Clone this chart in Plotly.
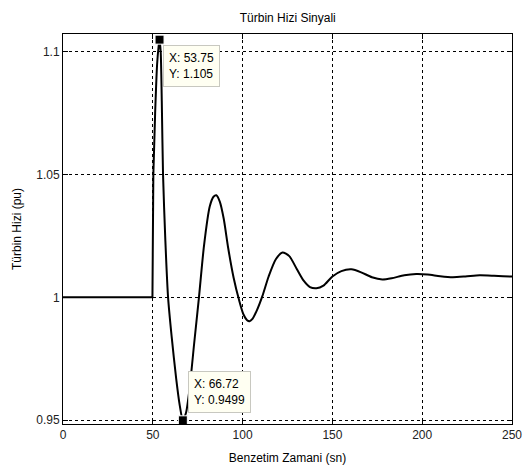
import plotly.graph_objects as go

# Simulation time (s) and turbine speed (pu)
t_sn = [0, 13, 14, 49.8, 50.3, 51.3, 52.4, 53.2, 53.75, 54.4, 55.0, 55.7, 57.0, 58.5,
        60.5, 63.0, 65.0, 66.72, 68.5, 70.5, 73.0, 75.7, 78.5, 81.7, 83.8, 85.4, 87.3,
        89.5, 92.0, 95.0, 98.0, 100.5, 102.5, 103.9, 105.5, 108.0, 111.0, 114.5, 118.5,
        122.2, 126.0, 130.0, 134.0, 137.5, 141.1, 145.0, 150.0, 155.0, 160.6, 166.0,
        172.0, 177.8, 183.0, 190.0, 196.7, 203.0, 210.0, 217.0, 224.0, 232.0, 240.0,
        245.0, 250.0]
hiz_pu = [1.0, 1.0, 1.0, 1.0, 1.05, 1.075, 1.095, 1.102, 1.105, 1.1, 1.08, 1.05,
          1.023, 1.0, 0.984, 0.967, 0.956, 0.9499, 0.953, 0.963, 0.981, 1.0, 1.021,
          1.037, 1.041, 1.0416, 1.039, 1.032, 1.02, 1.008, 0.999, 0.993, 0.9907, 0.9903,
          0.9912, 0.9948, 1.0005, 1.0085, 1.0155, 1.0183, 1.0168, 1.0118, 1.0068, 1.0042,
          1.0037, 1.0048, 1.0085, 1.0107, 1.0114, 1.0102, 1.0082, 1.0073, 1.0078,
          1.009, 1.0095, 1.0093, 1.0086, 1.0082, 1.0085, 1.009, 1.0088, 1.0086, 1.0085]
step_end = 5  # the flat part and the step up are straight segments

tip_x = [53.75, 66.72]
tip_y = [1.105, 0.9499]

x_ticks = [0, 50, 100, 150, 200, 250]
y_ticks = [0.95, 1.0, 1.05, 1.1]
y_tick_text = ["0.95", "1", "1.05", "1.1"]

font_family = "Liberation Sans, Arial, sans-serif"

fig = go.Figure()
fig.add_trace(go.Scatter(x=t_sn[:step_end], y=hiz_pu[:step_end], mode="lines",
                         line=dict(color="black", width=2),
                         hoverinfo="skip", showlegend=False))
fig.add_trace(go.Scatter(x=t_sn[step_end - 1:], y=hiz_pu[step_end - 1:], mode="lines",
                         line=dict(color="black", width=2, shape="spline", smoothing=0.7),
                         hoverinfo="skip", showlegend=False))
fig.add_trace(go.Scatter(x=tip_x, y=tip_y, mode="markers",
                         marker=dict(symbol="square", size=9, color="black",
                                     line=dict(color="white", width=1)),
                         cliponaxis=False, showlegend=False))

fig.add_annotation(x=tip_x[0], y=tip_y[0], text=f"X: {tip_x[0]}<br>Y: {tip_y[0]}",
                   showarrow=False, xanchor="left", yanchor="top", align="left",
                   xshift=3, yshift=-5, bgcolor="#FFFFF2", bordercolor="#C8C8C0",
                   borderwidth=1, borderpad=5,
                   font=dict(family=font_family, size=12, color="black"))
fig.add_annotation(x=tip_x[1], y=tip_y[1], text=f"X: {tip_x[1]}<br>Y: {tip_y[1]}",
                   showarrow=False, xanchor="left", yanchor="bottom", align="left",
                   xshift=5, yshift=7, bgcolor="#FFFFF2", bordercolor="#C8C8C0",
                   borderwidth=1, borderpad=5,
                   font=dict(family=font_family, size=12, color="black"))

axis_common = dict(showline=True, linecolor="black", linewidth=1, mirror="ticks",
                   ticks="inside", ticklen=5, tickcolor="black", automargin=False,
                   showgrid=True, gridcolor="black", gridwidth=1, griddash="3px,3px",
                   zeroline=False, tickfont=dict(family=font_family, size=12, color="#222"))

fig.update_layout(
    width=527, height=470,
    margin=dict(l=63, r=15, t=34, b=46),
    paper_bgcolor="white", plot_bgcolor="white",
    title=dict(text="Türbin Hizi Sinyali", x=0.546, xanchor="center", y=0.962,
               yanchor="middle", font=dict(family=font_family, size=12, color="black")),
    xaxis=dict(range=[0, 250], tickvals=x_ticks,
               title=dict(text="Benzetim Zamani (sn)", standoff=12,
                          font=dict(family=font_family, size=12, color="black")),
               **axis_common),
    yaxis=dict(range=[0.9484, 1.1073], tickvals=y_ticks, ticktext=y_tick_text,
               title=dict(text="Türbin Hizi (pu)", standoff=12,
                          font=dict(family=font_family, size=12, color="black")),
               **axis_common),
)

fig.write_html("out.html")
